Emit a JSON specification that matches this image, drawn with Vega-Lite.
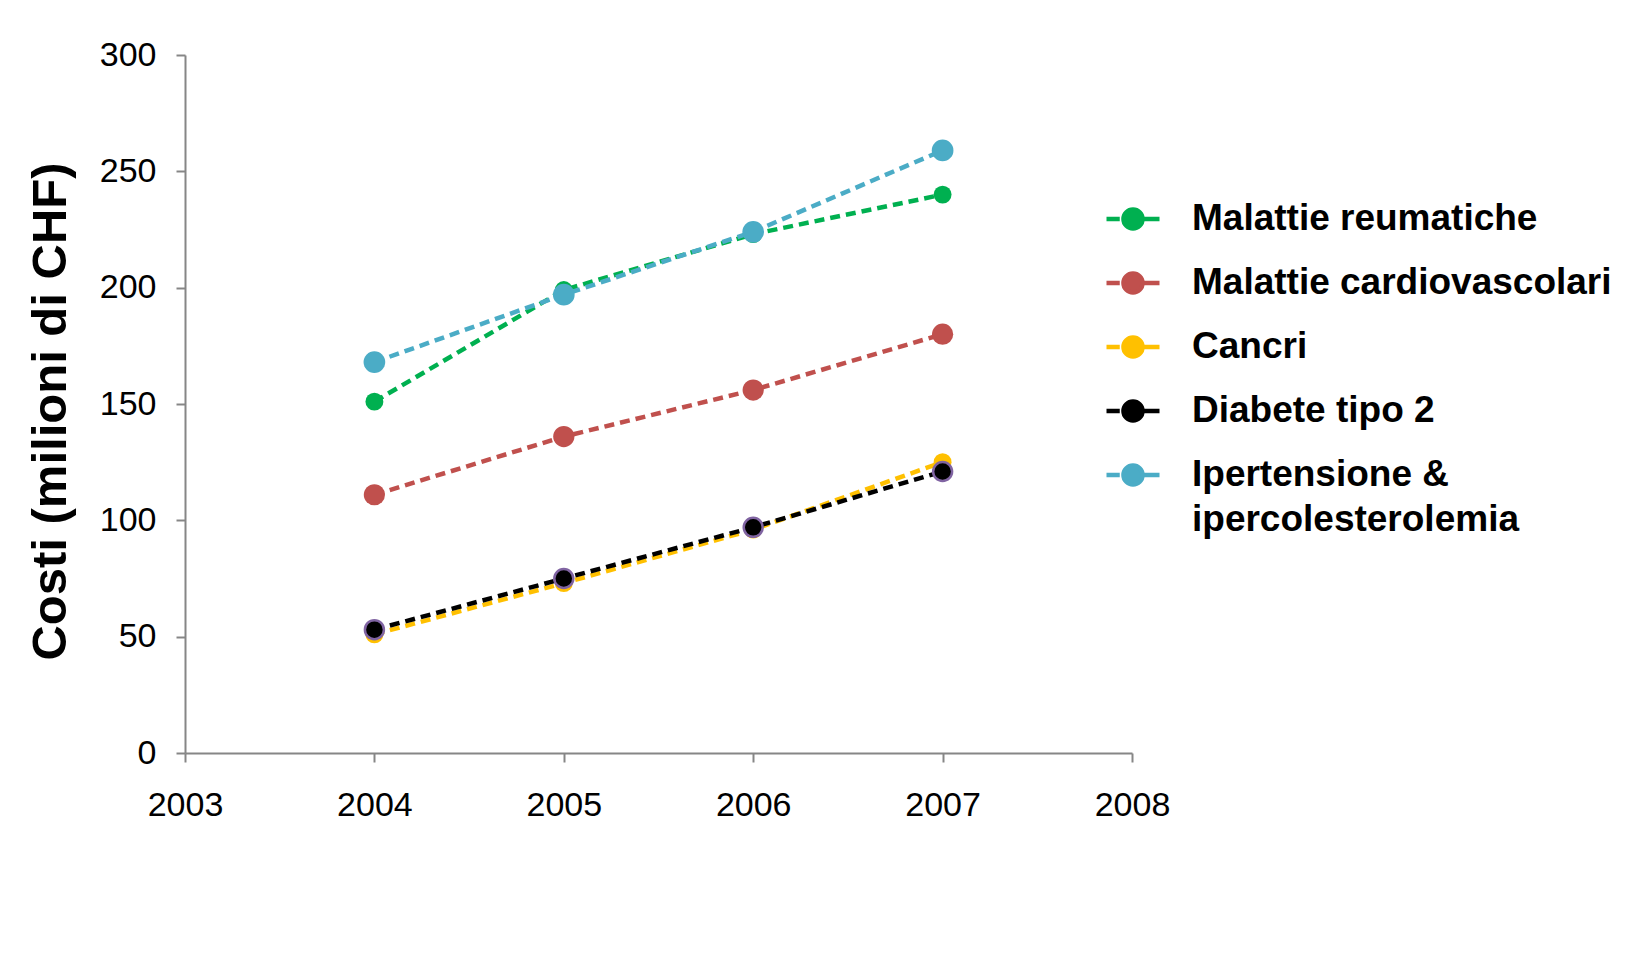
{
  "$schema": "https://vega.github.io/schema/vega-lite/v6.json",
  "width": 947,
  "height": 698,
  "autosize": "none",
  "padding": {"left": 185, "top": 55, "right": 501, "bottom": 200},
  "background": "white",
  "config": {"view": {"stroke": null}, "font": "Liberation Sans"},
  "data": {
    "values": [
      {"series": "Malattie reumatiche", "year": 2004, "value": 151},
      {"series": "Malattie reumatiche", "year": 2005, "value": 199},
      {"series": "Malattie reumatiche", "year": 2006, "value": 223},
      {"series": "Malattie reumatiche", "year": 2007, "value": 240},
      {"series": "Malattie cardiovascolari", "year": 2004, "value": 111},
      {"series": "Malattie cardiovascolari", "year": 2005, "value": 136},
      {"series": "Malattie cardiovascolari", "year": 2006, "value": 156},
      {"series": "Malattie cardiovascolari", "year": 2007, "value": 180},
      {"series": "Cancri", "year": 2004, "value": 51},
      {"series": "Cancri", "year": 2005, "value": 73},
      {"series": "Cancri", "year": 2006, "value": 96},
      {"series": "Cancri", "year": 2007, "value": 125},
      {"series": "Diabete tipo 2", "year": 2004, "value": 53},
      {"series": "Diabete tipo 2", "year": 2005, "value": 75},
      {"series": "Diabete tipo 2", "year": 2006, "value": 97},
      {"series": "Diabete tipo 2", "year": 2007, "value": 121},
      {"series": "Ipertensione & ipercolesterolemia", "year": 2004, "value": 168},
      {"series": "Ipertensione & ipercolesterolemia", "year": 2005, "value": 197},
      {"series": "Ipertensione & ipercolesterolemia", "year": 2006, "value": 224},
      {"series": "Ipertensione & ipercolesterolemia", "year": 2007, "value": 259}
    ]
  },
  "encoding": {
    "x": {
      "field": "year", "type": "quantitative",
      "scale": {"domain": [2003, 2008]},
      "axis": {
        "values": [2003, 2004, 2005, 2006, 2007, 2008], "format": "d", "title": null, "grid": false,
        "labelFlush": false,
        "labelFontSize": 34, "labelColor": "black", "labelFont": "Liberation Sans",
        "domainColor": "#868686", "tickColor": "#868686", "domainWidth": 2, "tickWidth": 2,
        "tickSize": 9, "labelPadding": 26
      }
    },
    "y": {
      "field": "value", "type": "quantitative",
      "scale": {"domain": [0, 300]},
      "axis": {
        "values": [0, 50, 100, 150, 200, 250, 300], "grid": false, "labelFlush": false,
        "title": "Costi (milioni di CHF)", "titleFontSize": 49, "titleFontWeight": "bold",
        "titleColor": "black", "titleFont": "Liberation Sans", "titlePadding": 24, "titleY": 356,
        "labelFontSize": 34, "labelColor": "black", "labelFont": "Liberation Sans",
        "domainColor": "#868686", "tickColor": "#868686", "domainWidth": 2, "tickWidth": 2,
        "tickSize": 9, "labelPadding": 20
      }
    },
    "color": {
      "field": "series", "type": "nominal",
      "scale": {
        "domain": ["Malattie reumatiche", "Malattie cardiovascolari", "Cancri", "Diabete tipo 2", "Ipertensione & ipercolesterolemia"],
        "range": ["#00B050", "#C0504D", "#FFC000", "#000000", "#4BACC6"]
      },
      "legend": {
        "orient": "none", "legendX": 919, "legendY": 135, "title": null, "padding": 0,
        "labelFontSize": 37, "labelFontWeight": "bold", "labelColor": "black", "labelFont": "Liberation Sans",
        "labelOffset": 30, "rowPadding": 16, "labelLimit": 600,
        "labelExpr": "datum.label == 'Ipertensione & ipercolesterolemia' ? ['Ipertensione &', 'ipercolesterolemia'] : datum.label",
        "symbolType": "M-1,0H-0.5M0.4,0H1M0.36,0A0.36,0.36,0,1,1,-0.36,0A0.36,0.36,0,1,1,0.36,0Z",
        "symbolSize": 2809, "symbolStrokeWidth": 4,
        "encode": {
          "labels": {"update": {"lineHeight": {"value": 45}}},
          "symbols": {
            "update": {
              "size": {"value": 2809},
              "fill": {"scale": "color", "field": "value"},
              "stroke": {"scale": "color", "field": "value"},
              "strokeDash": {"value": []},
              "strokeWidth": {"value": 4.5},
              "opacity": {"value": 1}
            }
          }
        }
      }
    }
  },
  "layer": [
    {"mark": {"type": "line", "strokeDash": [10, 6], "strokeWidth": 4.5}},
    {
      "transform": [{"filter": "datum.series === 'Malattie reumatiche' || datum.series === 'Cancri'"}],
      "mark": {"type": "point", "filled": true, "opacity": 1, "size": 320}
    },
    {
      "transform": [{"filter": "datum.series === 'Malattie cardiovascolari'"}],
      "mark": {"type": "point", "filled": true, "opacity": 1, "size": 450}
    },
    {
      "transform": [{"filter": "datum.series === 'Diabete tipo 2'"}],
      "mark": {"type": "point", "filled": true, "opacity": 1, "size": 360, "stroke": "#8064A2", "strokeWidth": 2.5}
    },
    {
      "transform": [{"filter": "datum.series === 'Ipertensione & ipercolesterolemia'"}],
      "mark": {"type": "point", "filled": true, "opacity": 1, "size": 470}
    }
  ]
}
